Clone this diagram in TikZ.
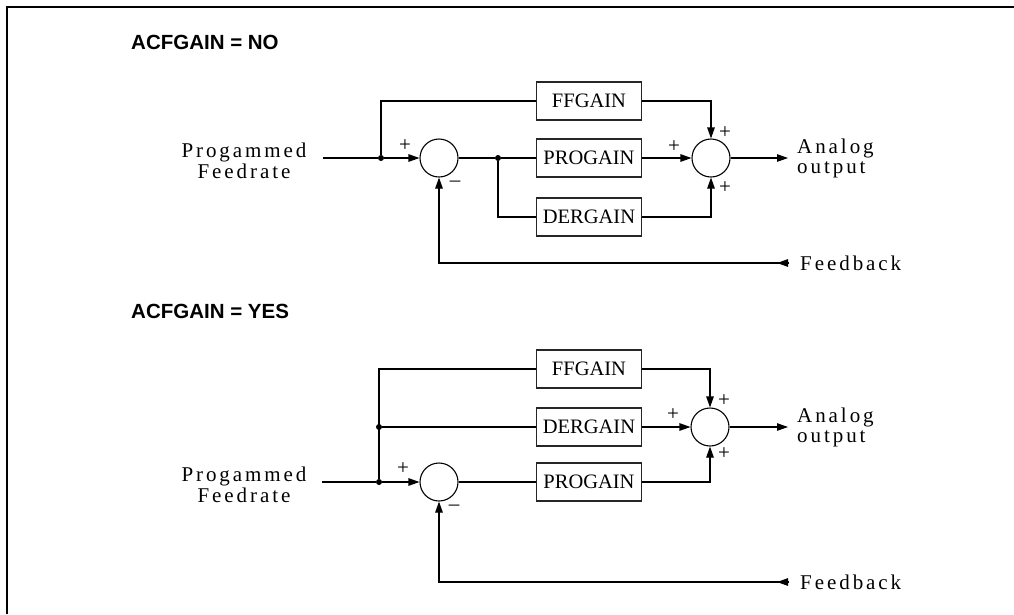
\documentclass[tikz,border=0pt]{standalone}
\usepackage{fontspec}
\usepackage{tikz}
\usetikzlibrary{arrows.meta}
\newfontfamily\headfont{Liberation Sans}
\newfontfamily\sigfont[LetterSpace=14]{Liberation Serif}
\newfontfamily\gainfont{Liberation Serif}
\tikzset{
  wire/.style={line width=1.1pt, draw=black},
  arr/.style={wire, -{Triangle[length=11pt,width=7.5pt]}},
  frame/.style={line width=2.3pt, draw=black},
  gainbox/.style={
    draw=black!85,
    line width=1.1pt,
    minimum width=105pt,
    minimum height=38pt,
    inner sep=0pt,
    font=\gainfont\fontsize{20.5}{22}\selectfont
  },
  sumnode/.style={circle, draw=black, line width=1.1pt, minimum size=38pt, inner sep=0pt},
  junc/.style={circle, fill=black, minimum size=6pt, inner sep=0pt},
  siglabel/.style={font=\sigfont\fontsize{21}{21}\selectfont, align=center, inner sep=0pt},
  outlabel/.style={font=\sigfont\fontsize{21}{20}\selectfont, align=left, anchor=west, inner ysep=0pt},
  sign/.style={font=\gainfont\fontsize{21}{21}\selectfont, inner sep=0pt},
  title/.style={font=\headfont\bfseries\fontsize{20.5}{22}\selectfont, anchor=base west, inner sep=0pt}
}

\begin{document}
\begin{tikzpicture}[x=1pt,y=-1pt]
\useasboundingbox (0,0) rectangle (1014,614);
\fill[white] (0,0) rectangle (1014,614);
\draw[frame] (7,614) -- (7,7) -- (1014,7);

% ACFGAIN = NO
\node[title] (title1) at (131,49) {ACFGAIN = NO};

\node[siglabel] (in1) at (244,161) {Progammed\\Feedrate};
\coordinate (src1) at (323,158);
\node[junc] (j1) at (381,158) {};
\node[sumnode] (sum1) at (439,158) {};
\node[junc] (j2) at (498,158) {};
\node[gainbox] (ff1) at (589,101) {FFGAIN};
\node[gainbox] (pro1) at (589,158) {PROGAIN};
\node[gainbox] (der1) at (589,217) {DERGAIN};
\node[sumnode] (sum2) at (711,158) {};
\node[outlabel, inner xsep=9pt] (out1) at (788,158) {Analog\\output};
\node[outlabel, inner xsep=11pt] (fb1) at (789,263) {Feedback};

\node[sign] (p1) at (405,146) {+};
\node[sign] (m1) at (455,184) {\textendash};
\node[sign] (p2) at (725,133) {+};
\node[sign] (p3) at (674,147) {+};
\node[sign] (p4) at (725,188) {+};

\draw[wire] (src1) -- (j1);
\draw[arr] (j1) -- (sum1.west);
\draw[wire] (j1) |- (ff1.west);
\draw[wire] (sum1.east) -- (j2) -- (pro1.west);
\draw[wire] (j2) |- (der1.west);
\draw[arr] (ff1.east) -| (sum2.north);
\draw[arr] (pro1.east) -- (sum2.west);
\draw[arr] (der1.east) -| (sum2.south);
\draw[arr] (sum2.east) -- (out1.west);
\draw[arr] (fb1.west) -| (sum1.south);
\draw[arr] (fb1.west) -- ++(-12,0);

% ACFGAIN = YES
\node[title] (title2) at (131,318) {ACFGAIN = YES};

\node[siglabel] (in2) at (244,485) {Progammed\\Feedrate};
\coordinate (src2) at (322,482);
\node[junc] (j3) at (379,482) {};
\node[junc] (j4) at (379,427) {};
\node[sumnode] (sum3) at (439,482) {};
\node[gainbox] (ff2) at (589,369) {FFGAIN};
\node[gainbox] (der2) at (589,427) {DERGAIN};
\node[gainbox] (pro2) at (589,482) {PROGAIN};
\node[sumnode] (sum4) at (710,427) {};
\node[outlabel, inner xsep=9pt] (out2) at (788,427) {Analog\\output};
\node[outlabel, inner xsep=11pt] (fb2) at (789,582) {Feedback};

\node[sign] (p5) at (403,469) {+};
\node[sign] (m2) at (454,508) {\textendash};
\node[sign] (p6) at (724,401) {+};
\node[sign] (p7) at (673,415) {+};
\node[sign] (p8) at (724,454) {+};

\draw[wire] (src2) -- (j3);
\draw[arr] (j3) -- (sum3.west);
\draw[wire] (j3) |- (ff2.west);
\draw[wire] (j4) -- (der2.west);
\draw[wire] (sum3.east) -- (pro2.west);
\draw[arr] (ff2.east) -| (sum4.north);
\draw[arr] (der2.east) -- (sum4.west);
\draw[arr] (pro2.east) -| (sum4.south);
\draw[arr] (sum4.east) -- (out2.west);
\draw[arr] (fb2.west) -| (sum3.south);
\draw[arr] (fb2.west) -- ++(-12,0);

\end{tikzpicture}
\end{document}
